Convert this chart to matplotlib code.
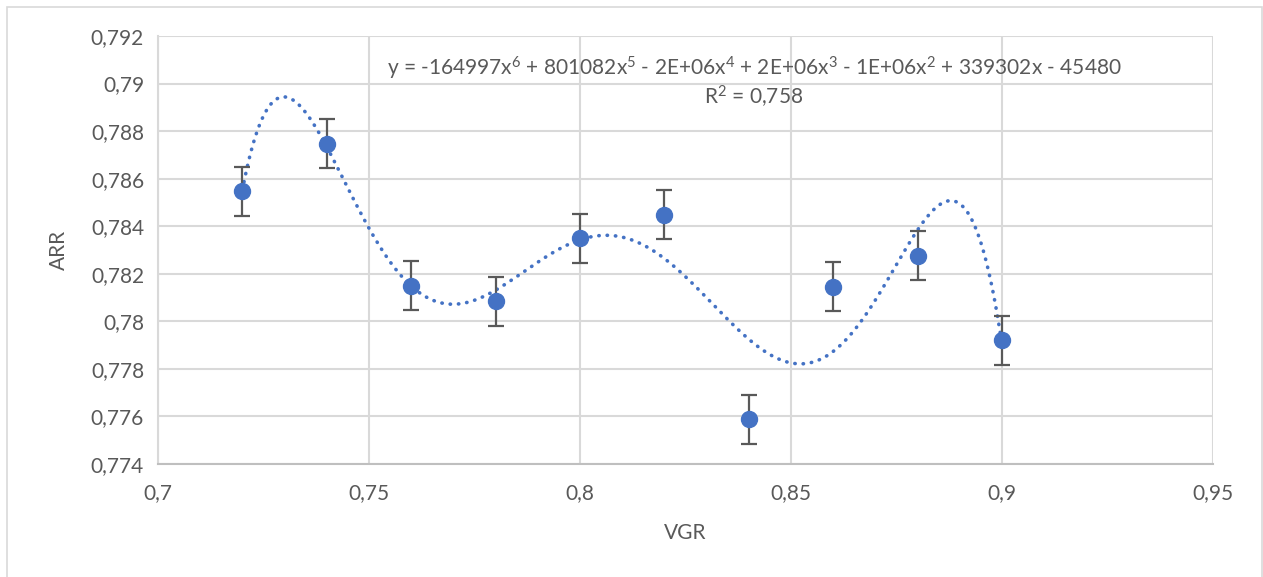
import numpy as np
import matplotlib
matplotlib.use("Agg")
import matplotlib.pyplot as plt
from matplotlib.ticker import FuncFormatter, MultipleLocator
from matplotlib.patches import Rectangle

# ---- data ----
vgr = [0.72, 0.74, 0.76, 0.78, 0.80, 0.82, 0.84, 0.86, 0.88, 0.90]
arr = [0.78548, 0.78747, 0.78150, 0.78084, 0.78350, 0.78449, 0.77588, 0.78146, 0.78275, 0.77920]
arr_err = [0.00103] * len(vgr)
equation = (r"y = -164997x$^{6}$ + 801082x$^{5}$ - 2E+06x$^{4}$ + 2E+06x$^{3}$"
            r" - 1E+06x$^{2}$ + 339302x - 45480")
r2_text = r"R$^{2}$ = 0,758"
x_label = "VGR"
y_label = "ARR"

blue = "#4472C4"
grey_text = "#595959"
grid_c = "#d9d9d9"
FAM = ["Lato", "DejaVu Sans"]
plt.rcParams["font.family"] = FAM
plt.rcParams["mathtext.fontset"] = "custom"
plt.rcParams["mathtext.rm"] = "Lato"
plt.rcParams["mathtext.it"] = "Lato"
plt.rcParams["mathtext.default"] = "rm"

fig = plt.figure(figsize=(12.63, 5.77), dpi=100)
ax = fig.add_axes([158 / 1263, 1 - 464 / 577, (1213 - 158) / 1263, (464 - 36) / 577])

# chart frame
fig.patches.append(Rectangle((7 / 1263, -0.05), (1262 - 7) / 1263, 1 - 7 / 577 + 0.05,
                             transform=fig.transFigure, fill=False, ec=grid_c, lw=1.2))

# polynomial trendline (order 6) fitted to the data
coef = np.polyfit(vgr, arr, 6)
xs = np.linspace(min(vgr), max(vgr), 400)
ax.plot(xs, np.polyval(coef, xs), color=blue, lw=2.6, linestyle=(0, (0.1, 2.2)),
        dash_capstyle="round", zorder=3)

ax.errorbar(vgr, arr, yerr=arr_err, fmt="o", color=blue, ms=11.5, mec=blue,
            ecolor="#595959", elinewidth=1.6, capsize=6, capthick=1.6, zorder=4)

ax.set_xlim(0.7, 0.95)
ax.set_ylim(0.774, 0.792)
ax.xaxis.set_major_locator(MultipleLocator(0.05))
ax.yaxis.set_major_locator(MultipleLocator(0.002))


def fmt(v, pos):
    s = ("%.3f" % v).rstrip("0").rstrip(".")
    return s.replace(".", ",")


ax.xaxis.set_major_formatter(FuncFormatter(fmt))
ax.yaxis.set_major_formatter(FuncFormatter(fmt))

ax.grid(True, color=grid_c, lw=1.5)
ax.set_axisbelow(True)
for side in ["top", "right"]:
    ax.spines[side].set_visible(False)
ax.spines["left"].set_color(grid_c)
ax.spines["left"].set_linewidth(1.5)
ax.spines["bottom"].set_color("#bfbfbf")
ax.spines["bottom"].set_linewidth(1.5)
ax.tick_params(length=0, labelsize=15, colors=grey_text, pad=10)
ax.tick_params(axis="x", pad=14)

ax.set_xlabel(x_label, fontsize=15, color=grey_text, labelpad=14)
ax.set_ylabel(y_label, fontsize=15, color=grey_text, labelpad=16)

ax.text(754 / 1263, 1 - 68 / 577, equation, transform=fig.transFigure, ha="center",
        va="center", fontsize=15, color=grey_text)
ax.text(754 / 1263, 1 - 97 / 577, r2_text, transform=fig.transFigure, ha="center",
        va="center", fontsize=15, color=grey_text)

fig.savefig("out.png", dpi=100, facecolor="white")
